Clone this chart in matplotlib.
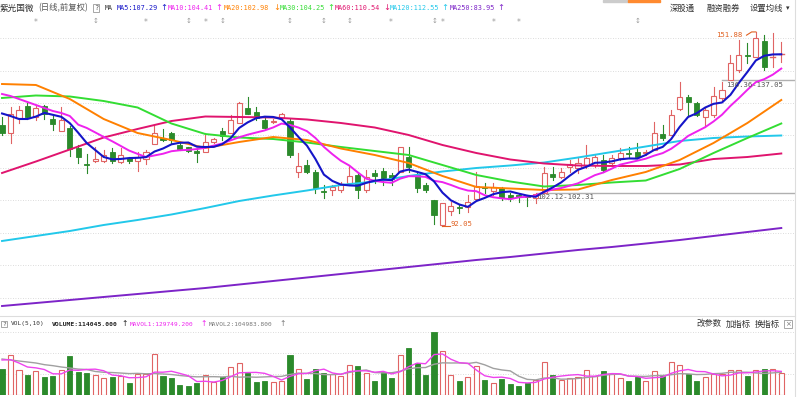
import matplotlib
matplotlib.use("Agg")
import matplotlib.pyplot as plt
import numpy as np
import pandas as pd
from matplotlib.patches import Rectangle
from matplotlib.lines import Line2D

# ---------------- data ----------------
opens = [123.20, 120.82, 125.27, 129.06, 125.67, 129.06, 124.96, 121.44, 122.37, 116.01,
         111.02, 112.19, 112.19, 114.97, 111.88, 112.93, 112.10, 112.62, 117.34, 119.10,
         120.82, 117.03, 116.32, 115.18, 114.97, 118.05, 121.35, 120.64, 123.91, 128.35,
         127.30, 124.74, 124.13, 125.27, 124.43, 108.80, 110.86, 108.80, 102.75, 103.15,
         103.15, 105.41, 107.78, 103.15, 108.49, 109.01, 107.78, 108.80, 113.24, 107.78,
         104.70, 99.92, 92.30, 96.68, 98.00, 98.00, 100.38, 104.08, 102.94, 103.68,
         101.61, 101.61, 101.30, 100.59, 102.31, 108.09, 107.26, 110.25, 109.85, 110.86,
         110.86, 112.41, 111.39, 112.93, 114.47, 114.97, 114.66, 115.49, 120.42, 120.12,
         128.04, 131.93, 129.89, 125.76, 126.28, 131.43, 137.05, 140.16, 144.79, 144.26,
         149.20, 144.17, 144.94]
highs = [125.76, 128.84, 129.06, 129.89, 129.37, 129.37, 126.28, 128.66, 122.89, 117.03,
         114.26, 116.51, 115.49, 116.01, 116.01, 113.42, 114.97, 115.49, 123.20, 121.87,
         121.04, 118.05, 116.51, 116.01, 120.82, 119.10, 122.18, 126.28, 130.39, 131.93,
         128.84, 125.27, 124.96, 126.99, 124.96, 114.47, 112.41, 109.32, 104.70, 104.70,
         105.71, 110.56, 108.30, 109.32, 109.32, 109.85, 108.30, 116.51, 116.51, 108.30,
         105.22, 100.07, 99.14, 99.55, 98.53, 101.61, 108.71, 105.22, 105.22, 104.17,
         102.14, 101.92, 101.61, 102.12, 110.25, 110.34, 109.85, 112.41, 113.42, 117.03,
         113.95, 113.95, 113.95, 116.01, 116.51, 117.56, 115.49, 124.22, 123.20, 127.83,
         136.55, 132.45, 130.39, 128.84, 135.01, 136.36, 144.79, 149.41, 148.40, 151.88,
         151.00, 151.48, 148.89]
lows = [120.12, 117.56, 123.72, 124.96, 124.74, 124.96, 121.66, 121.44, 113.64, 111.39,
        108.49, 111.88, 111.79, 111.57, 111.39, 111.39, 109.11, 111.17, 117.19, 118.36,
        117.56, 115.49, 114.97, 111.88, 114.97, 117.56, 118.57, 120.64, 123.72, 126.59,
        124.74, 121.87, 123.72, 124.74, 113.42, 107.07, 108.30, 102.14, 100.59, 101.61,
        102.63, 104.70, 100.69, 102.54, 105.22, 104.70, 104.70, 108.71, 108.80, 102.63,
        102.54, 92.82, 92.05, 95.35, 96.15, 96.46, 100.38, 102.14, 101.61, 100.07,
        99.85, 99.55, 98.22, 99.05, 102.31, 106.24, 106.76, 108.71, 108.30, 109.85,
        110.34, 108.71, 110.86, 112.41, 112.93, 112.93, 113.95, 115.49, 118.57, 120.12,
        127.83, 126.28, 125.90, 122.68, 125.76, 130.91, 137.05, 139.64, 142.23, 144.26,
        140.16, 141.18, 142.72]
closes = [120.82, 126.50, 127.83, 125.57, 128.29, 126.50, 123.51, 124.74, 115.80, 113.42,
          110.71, 112.81, 113.95, 112.19, 113.95, 112.10, 113.24, 114.97, 120.82, 118.57,
          118.57, 115.71, 115.27, 114.47, 118.05, 118.79, 119.81, 124.74, 130.08, 126.59,
          125.27, 122.18, 124.28, 126.59, 113.95, 110.56, 108.80, 103.68, 102.54, 104.17,
          105.00, 107.47, 103.15, 107.01, 107.47, 106.76, 106.45, 116.42, 110.15, 103.92,
          103.15, 95.44, 99.05, 98.22, 97.51, 99.55, 104.39, 103.92, 103.99, 100.59,
          100.59, 101.09, 100.90, 102.07, 108.30, 107.26, 108.80, 111.17, 111.39, 112.93,
          113.42, 109.32, 112.93, 114.47, 114.26, 113.24, 114.97, 120.64, 119.10, 126.32,
          131.93, 130.39, 126.32, 127.83, 132.14, 133.99, 142.23, 144.79, 144.63, 149.94,
          141.18, 144.26, 145.00]
volume_k = [78, 120, 76, 60, 73, 53, 56, 75, 118, 68,
            66, 61, 51, 53, 58, 36, 63, 63, 123, 57,
            50, 31, 27, 37, 61, 38, 55, 83, 96, 65,
            40, 41, 38, 41, 120, 78, 47, 78, 65, 63,
            56, 90, 88, 66, 41, 70, 51, 121, 141, 95,
            61, 188, 131, 61, 43, 53, 86, 45, 36, 48,
            33, 28, 36, 45, 98, 60, 45, 50, 53, 76,
            58, 71, 63, 50, 41, 53, 43, 73, 58, 98,
            91, 63, 43, 55, 63, 63, 75, 75, 57, 76,
            78, 78, 65]

# short averages: values read off the chart before the window fills,
# rolling means of the data afterwards
ma5_head = [126.75, 125.97, 125.05, 125.05]
ma10_head = [132.76, 132.14, 131.22, 130.29, 129.37, 128.44, 127.52, 126.90, 125.97]
mavol1_head = [105, 106, 96, 84]
mavol2_head = [108, 105, 102, 99, 96, 91, 88, 84, 81]

# long moving averages every 4th session
ma_idx = list(range(0, 93, 4))
ma20 = [135.84, 135.54, 131.22, 125.05, 120.73, 118.57, 116.11, 117.96, 119.50, 118.57,
        115.95, 113.95, 111.48, 107.47, 104.08, 103.62, 103.15, 103.31, 106.24, 108.71,
        112.41, 117.65, 123.82, 130.91]
ma30 = [131.53, 132.30, 131.99, 130.60, 128.60, 123.66, 120.42, 119.34, 118.88, 117.80,
        116.42, 115.18, 113.95, 110.86, 107.78, 105.78, 104.23, 104.70, 105.47, 106.08,
        109.63, 114.56, 119.19, 123.66]
ma60 = [108.40, 111.94, 115.64, 119.34, 121.97, 124.43, 125.82, 125.67, 125.51, 124.90,
        123.82, 122.43, 120.12, 117.03, 114.56, 112.56, 111.33, 110.71, 110.56, 110.56,
        111.02, 112.71, 113.33, 114.41]
ma120 = [87.43, 88.97, 90.51, 92.36, 93.90, 95.60, 97.60, 99.76, 101.46, 103.00,
         104.70, 105.78, 107.47, 108.86, 109.94, 110.71, 111.63, 113.18, 114.87, 116.57,
         118.27, 119.19, 119.65, 119.96]
ma250 = [67.38, 68.30, 69.23, 70.16, 71.08, 72.01, 72.93, 74.01, 75.09, 76.17,
         77.25, 78.33, 79.41, 80.49, 81.57, 82.49, 83.57, 84.65, 85.58, 86.65,
         87.73, 88.97, 90.20, 91.43]

header_items = [("MA5:107.29", "↑"), ("MA10:104.41", "↑"), ("MA20:102.98", "↓"),
                ("MA30:104.25", "↑"), ("MA60:110.54", "↓"), ("MA120:112.55", "↑"),
                ("MA250:83.95", "↑")]
vol_header = ["VOLUME:114045.000", "MAVOL1:129749.200", "MAVOL2:104983.800"]

# ---------------- style ----------------
RED = "#e06464"
GREEN = "#2b8a2b"
C_MA5 = "#1515c8"
C_MA10 = "#ee22ee"
C_MA20 = "#ff8000"
C_MA30 = "#33dd33"
C_MA60 = "#e0146e"
C_MA120 = "#22c8ea"
C_MA250 = "#7d24c8"
CJK = ["Noto Sans CJK SC", "DejaVu Sans"]
MONO = ["DejaVu Sans Mono", "Noto Sans CJK SC"]

W, H = 800, 397
fig = plt.figure(figsize=(W / 100, H / 100), dpi=100)
fig.patch.set_facecolor("white")


def axes_px(x0, y0, x1, y1):
    return fig.add_axes([x0 / W, 1 - y1 / H, (x1 - x0) / W, (y1 - y0) / H])


def ftext(x, y, s, **kw):
    kw.setdefault("va", "center")
    kw.setdefault("ha", "left")
    return fig.text(x / W, 1 - y / H, s, **kw)


def with_head(head, rolled):
    vals = list(rolled)
    vals[:len(head)] = head
    return vals


n = len(closes)
xs = np.arange(n)
XL = (-0.24, 93.62)
bw = 0.6

# ---------------- price panel ----------------
ax = axes_px(0, 14, 795, 312)
ax.set_xlim(*XL)
ax.set_ylim(65.53, 157.43)
ax.axis("off")
for p in range(70, 160, 10):
    ax.axhline(p, color="#d0d0d0", lw=0.6, ls=(0, (1, 2)), zorder=0)

for i in range(n):
    o, h, l, c = opens[i], highs[i], lows[i], closes[i]
    up = c >= o
    col = RED if up else GREEN
    lo, hi = min(o, c), max(o, c)
    if hi - lo < 0.12:
        ax.plot([i, i], [l, h], color=col, lw=0.8, zorder=2)
        ax.plot([i - bw / 2, i + bw / 2], [c, c], color=col, lw=1.0, zorder=2)
        continue
    if up:
        ax.plot([i, i], [hi, h], color=col, lw=0.8, zorder=2)
        ax.plot([i, i], [l, lo], color=col, lw=0.8, zorder=2)
        ax.add_patch(Rectangle((i - bw / 2, lo), bw, hi - lo, facecolor="white",
                               edgecolor=col, lw=0.8, zorder=2))
    else:
        ax.plot([i, i], [l, h], color=col, lw=0.8, zorder=2)
        ax.add_patch(Rectangle((i - bw / 2, lo), bw, hi - lo, facecolor=col,
                               edgecolor=col, lw=0.6, zorder=2))

cs = pd.Series(closes)
ma5 = with_head(ma5_head, cs.rolling(5, min_periods=1).mean())
ma10 = with_head(ma10_head, cs.rolling(10, min_periods=1).mean())
ax.plot(ma_idx, ma250, color=C_MA250, lw=1.4, zorder=3)
ax.plot(ma_idx, ma120, color=C_MA120, lw=1.4, zorder=3)
ax.plot(ma_idx, ma60, color=C_MA60, lw=1.4, zorder=3)
ax.plot(ma_idx, ma30, color=C_MA30, lw=1.4, zorder=3)
ax.plot(ma_idx, ma20, color=C_MA20, lw=1.4, zorder=3)
ax.plot(xs, ma10, color=C_MA10, lw=1.4, zorder=3)
ax.plot(xs, ma5, color=C_MA5, lw=1.5, zorder=4)

# gap lines and annotations
ax.plot([63.2, XL[1]], [102.2, 102.2], color="#b0b0b0", lw=1.0, zorder=1)
ax.text(63.2, 101.0, "102.12-102.31", fontsize=5.2, family=MONO, color="#555555",
        va="center", ha="left", zorder=5)
ax.plot([85.0, XL[1]], [137.0, 137.0], color="#b0b0b0", lw=1.0, zorder=1)
ax.text(85.5, 135.5, "136.36-137.05", fontsize=5.2, family=MONO, color="#555555",
        va="center", ha="left", zorder=5)
ax.plot([52.0, 52.9], [92.05, 92.05], color="#e06020", lw=0.8, zorder=5)
ax.text(52.95, 92.6, "92.05", fontsize=5.2, family=MONO, color="#e06020",
        va="center", ha="left", zorder=5)
ax.text(84.3, 151.0, "151.88", fontsize=5.2, family=MONO, color="#e06020",
        va="center", ha="left", zorder=5)
ax.plot([87.9, 88.5, 89.0], [150.9, 151.9, 151.9], color="#e06020", lw=0.8, zorder=5)

# ---------------- volume panel ----------------
vax = axes_px(0, 316, 795, 395)
vax.set_xlim(*XL)
vax.set_ylim(0, 237)
vax.axis("off")
for v in (64, 127, 190):
    vax.axhline(v, color="#d0d0d0", lw=0.6, ls=(0, (1, 2)), zorder=0)
for i in range(n):
    up = closes[i] >= opens[i]
    if up:
        vax.add_patch(Rectangle((i - bw / 2, 0), bw, volume_k[i], facecolor="white",
                                edgecolor=RED, lw=0.8, zorder=2))
    else:
        vax.add_patch(Rectangle((i - bw / 2, 0), bw, volume_k[i], facecolor=GREEN,
                                edgecolor=GREEN, lw=0.6, zorder=2))
vs = pd.Series(volume_k)
mavol1 = with_head(mavol1_head, vs.rolling(5, min_periods=1).mean())
mavol2 = with_head(mavol2_head, vs.rolling(10, min_periods=1).mean())
vax.plot(xs, mavol2, color="#a0a0a0", lw=1.0, zorder=3)
vax.plot(xs, mavol1, color="#ee44ee", lw=1.0, zorder=4)

# ---------------- frame lines ----------------
fig.add_artist(Line2D([0, 795 / W], [1 - 316 / H, 1 - 316 / H], color="#dddddd", lw=0.8))
fig.add_artist(Line2D([795 / W, 795 / W], [0, 1], color="#dddddd", lw=0.8))
fig.add_artist(Rectangle((603 / W, 1 - 2 / H), 25 / W, 2 / H, color="#cccccc"))
fig.add_artist(Rectangle((628 / W, 1 - 2 / H), 32 / W, 2 / H, color="#ff8a30"))

# ---------------- header ----------------
HY = 8
ftext(0, HY, "紫光国微", fontsize=6.2, family=CJK, color="#333333")
ftext(38, HY, "(日线,前复权)", fontsize=6.0, family=CJK, color="#555555")
ftext(94, HY, "?", fontsize=5, family=MONO, color="#555555",
      bbox=dict(boxstyle="square,pad=0.15", fc="white", ec="#999999", lw=0.6))
ftext(105, HY, "MA", fontsize=4.8, family=MONO, color="#333333")
ma_cols = [C_MA5, C_MA10, C_MA20, C_MA30, C_MA60, C_MA120, C_MA250]
lab_x = [117, 168, 224, 280, 335, 390, 450]
arr_x = [160, 215, 273, 327, 383, 441, 497]
for (lab, arr), col, lx, axx in zip(header_items, ma_cols, lab_x, arr_x):
    ftext(lx, HY, lab, fontsize=4.9, family=MONO, color=col)
    ftext(axx, HY, arr, fontsize=6, family=["DejaVu Sans"], color=col)
ftext(670, HY, "深股通", fontsize=6, family=CJK, color="#333333")
ftext(707, HY, "融资融券", fontsize=6, family=CJK, color="#333333")
ftext(750, HY, "设置均线", fontsize=6, family=CJK, color="#333333")
ftext(786, HY, "▾", fontsize=5, family=["DejaVu Sans"], color="#333333")

# event markers
for x in [36, 146, 205.7, 390.7, 442.7, 494, 519]:
    ftext(x, 23, "*", fontsize=5.5, family=["DejaVu Sans"], color="#999999", ha="center")
for x in [95.7, 188.3, 222.3, 290, 323.3, 349.3, 434.3, 637.7]:
    ftext(x, 21, "↕", fontsize=5, family=["DejaVu Sans"], color="#999999", ha="center")

# volume header
VY = 324
ftext(2, VY, "?", fontsize=4.6, family=MONO, color="#555555",
      bbox=dict(boxstyle="square,pad=0.15", fc="white", ec="#999999", lw=0.6))
ftext(11, VY, "VOL(5,10)", fontsize=4.4, family=MONO, color="#333333")
ftext(52, VY, vol_header[0], fontsize=4.6, family=MONO, color="#222222", weight="bold")
ftext(121, VY, "↑", fontsize=5.5, family=["DejaVu Sans"], color="#222222")
ftext(130, VY, vol_header[1], fontsize=4.4, family=MONO, color="#ee22ee")
ftext(200, VY, "↑", fontsize=5.5, family=["DejaVu Sans"], color="#ee22ee")
ftext(209, VY, vol_header[2], fontsize=4.4, family=MONO, color="#777777")
ftext(279, VY, "↑", fontsize=5.5, family=["DejaVu Sans"], color="#777777")
ftext(697, VY, "改参数", fontsize=6, family=CJK, color="#333333")
ftext(726, VY, "加指标", fontsize=6, family=CJK, color="#333333")
ftext(755, VY, "换指标", fontsize=6, family=CJK, color="#333333")
ftext(785, VY, "×", fontsize=5, family=["DejaVu Sans"], color="#777777",
      bbox=dict(boxstyle="square,pad=0.1", fc="white", ec="#999999", lw=0.6))

fig.savefig("out.png", dpi=100, facecolor="white")
